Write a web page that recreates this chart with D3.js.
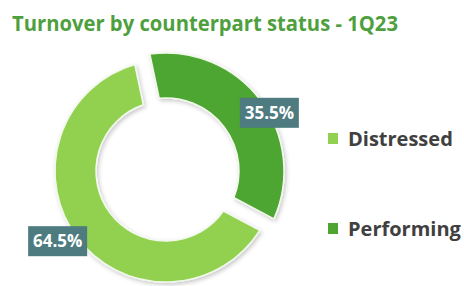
<!DOCTYPE html>
<html>
<head>
<meta charset="utf-8">
<script src="https://cdn.jsdelivr.net/npm/d3@7"></script>
<style>
  body { margin: 0; background: #fff; }
  svg { display: block; }
</style>
</head>
<body>
<div id="chart"></div>
<script>
const categories = ["Distressed", "Performing"];
const shares = [64.5, 35.5];
const labels = ["64.5%", "35.5%"];
const colors = ["#92D050", "#4EA532"];
const title = "Turnover by counterpart status - 1Q23";

const width = 464, height = 286;
const cx = 166, cy = 171;

const svg = d3.select("#chart")
  .append("svg")
  .attr("width", width)
  .attr("height", height);

// soft shadow under the ring
const defs = svg.append("defs");
defs.append("filter")
  .attr("id", "shadow")
  .attr("x", "-20%").attr("y", "-20%")
  .attr("width", "140%").attr("height", "140%")
  .append("feDropShadow")
  .attr("dx", 1.5).attr("dy", 2)
  .attr("stdDeviation", 2)
  .attr("flood-color", "#000")
  .attr("flood-opacity", 0.22);

svg.append("text")
  .attr("x", 12)
  .attr("y", 31)
  .attr("textLength", 386)
  .attr("lengthAdjust", "spacingAndGlyphs")
  .style("font-family", "'Open Sans', sans-serif")
  .style("font-weight", "bold")
  .style("font-size", "21px")
  .style("fill", "#4E9F3D")
  .text(title);

const data = categories.map((c, i) => ({ name: c, value: shares[i], label: labels[i], color: colors[i] }));

const start = 118 * Math.PI / 180;
const pie = d3.pie()
  .sort(null)
  .value(d => d.value)
  .startAngle(start)
  .endAngle(start + 2 * Math.PI)
  .padAngle(0.13);

// the darker slice is drawn a bit larger, as in the original
const radii = [
  { inner: 70, outer: 111 },
  { inner: 73, outer: 118 }
];

const g = svg.append("g")
  .attr("transform", "translate(" + cx + "," + cy + ")");

const arcs = pie(data);

g.selectAll("path")
  .data(arcs)
  .enter()
  .append("path")
  .attr("d", (d, i) => d3.arc()
    .innerRadius(radii[i].inner)
    .outerRadius(radii[i].outer)
    .padRadius(130)(d))
  .attr("fill", d => d.data.color)
  .attr("stroke", "#F2F9EC")
  .attr("stroke-width", 1.5)
  .attr("filter", "url(#shadow)");

// data labels in boxes
const labelArc = d3.arc().innerRadius(125).outerRadius(125);
const nudge = [[-8, -5], [4, 17]];

const lab = g.selectAll(".lab")
  .data(arcs)
  .enter()
  .append("g")
  .attr("class", "lab")
  .attr("transform", (d, i) => {
    const c = labelArc.centroid(d);
    return "translate(" + (c[0] + nudge[i][0]) + "," + (c[1] + nudge[i][1]) + ")";
  });

lab.append("rect")
  .attr("x", -30)
  .attr("y", -15)
  .attr("width", 59)
  .attr("height", 30)
  .attr("fill", "#4D7B7F");

lab.append("text")
  .attr("x", -0.5)
  .attr("text-anchor", "middle")
  .attr("dy", "0.36em")
  .style("font-family", "'Open Sans', sans-serif")
  .style("font-weight", "bold")
  .style("font-size", "17px")
  .style("fill", "#fff")
  .text(d => d.data.label);

// legend
const legend = svg.append("g")
  .attr("transform", "translate(328,0)");

const legY = d3.scalePoint()
  .domain(categories)
  .range([139, 229]);

const item = legend.selectAll(".leg")
  .data(data)
  .enter()
  .append("g")
  .attr("class", "leg")
  .attr("transform", d => "translate(0," + legY(d.name) + ")");

item.append("rect")
  .attr("x", 0)
  .attr("y", -6)
  .attr("width", 10)
  .attr("height", 11)
  .attr("fill", d => d.color);

item.append("text")
  .attr("x", 20)
  .attr("y", 7)
  .style("font-family", "'Open Sans', sans-serif")
  .style("font-weight", "bold")
  .style("font-size", "20px")
  .style("fill", "#404040")
  .text(d => d.name);
</script>
</body>
</html>
